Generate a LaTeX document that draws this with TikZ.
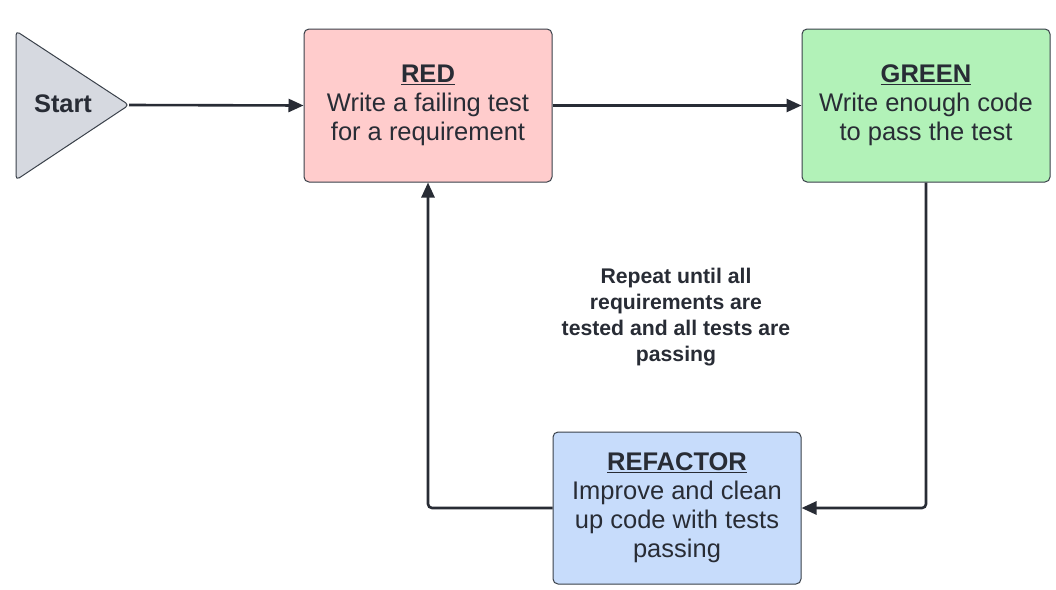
\documentclass[tikz,border=0pt]{standalone}
\usepackage{fontspec}
\setmainfont{Liberation Sans}
\usetikzlibrary{arrows.meta}
\definecolor{ink}{HTML}{282C35}
\definecolor{edge}{HTML}{3A414A}
\definecolor{redfill}{HTML}{FFCCCC}
\definecolor{greenfill}{HTML}{B2F2B8}
\definecolor{bluefill}{HTML}{C7DCFB}
\definecolor{grayfill}{HTML}{D6D9E0}
\tikzset{
  box/.style={draw=edge, line width=1pt, rounded corners=5pt, minimum width=248pt, minimum height=153pt,
    align=center, text=ink, font=\fontsize{25.5}{29}\selectfont, inner sep=0pt},
  arr/.style={draw=ink, line width=2.6pt, -{Triangle[length=15pt,width=13pt]}, rounded corners=4pt},
}
\begin{document}
\begin{tikzpicture}[x=1pt,y=-1pt]
\useasboundingbox (0,0) rectangle (1056,589);
\fill[white] (0,0) rectangle (1056,589);
% Start triangle
\draw[draw=edge, line width=1pt, fill=grayfill, rounded corners=4pt] (16,31) -- (129,105) -- (16,180) -- cycle;
\coordinate (starttip) at (129,105);
\node[text=ink, font=\bfseries\fontsize{25.4}{29}\selectfont] (start) at (63,104) {Start};
% boxes
\node[box, fill=redfill] (red) at (428,105.5) {\underline{\textbf{RED}}\\Write a failing test\\for a requirement};
\node[box, fill=greenfill] (green) at (926,105.5) {\underline{\textbf{GREEN}}\\Write enough code\\to pass the test};
\node[box, fill=bluefill, minimum height=152pt] (refactor) at (677,508) {\underline{\textbf{REFACTOR}}\\Improve and clean\\up code with tests\\passing};
% note
\node[align=center, text=ink, font=\bfseries\fontsize{21.2}{26}\selectfont] (note) at (676,317) {Repeat until all\\requirements are\\tested and all tests are\\passing};
% connectors
\draw[arr] (starttip) -- (red.west);
\draw[arr] (red.east) -- (green.west);
\draw[arr] (green.south) -- (green.south |- refactor.east) -- (refactor.east);
\draw[arr] (refactor.west) -| (red.south);
\end{tikzpicture}
\end{document}
